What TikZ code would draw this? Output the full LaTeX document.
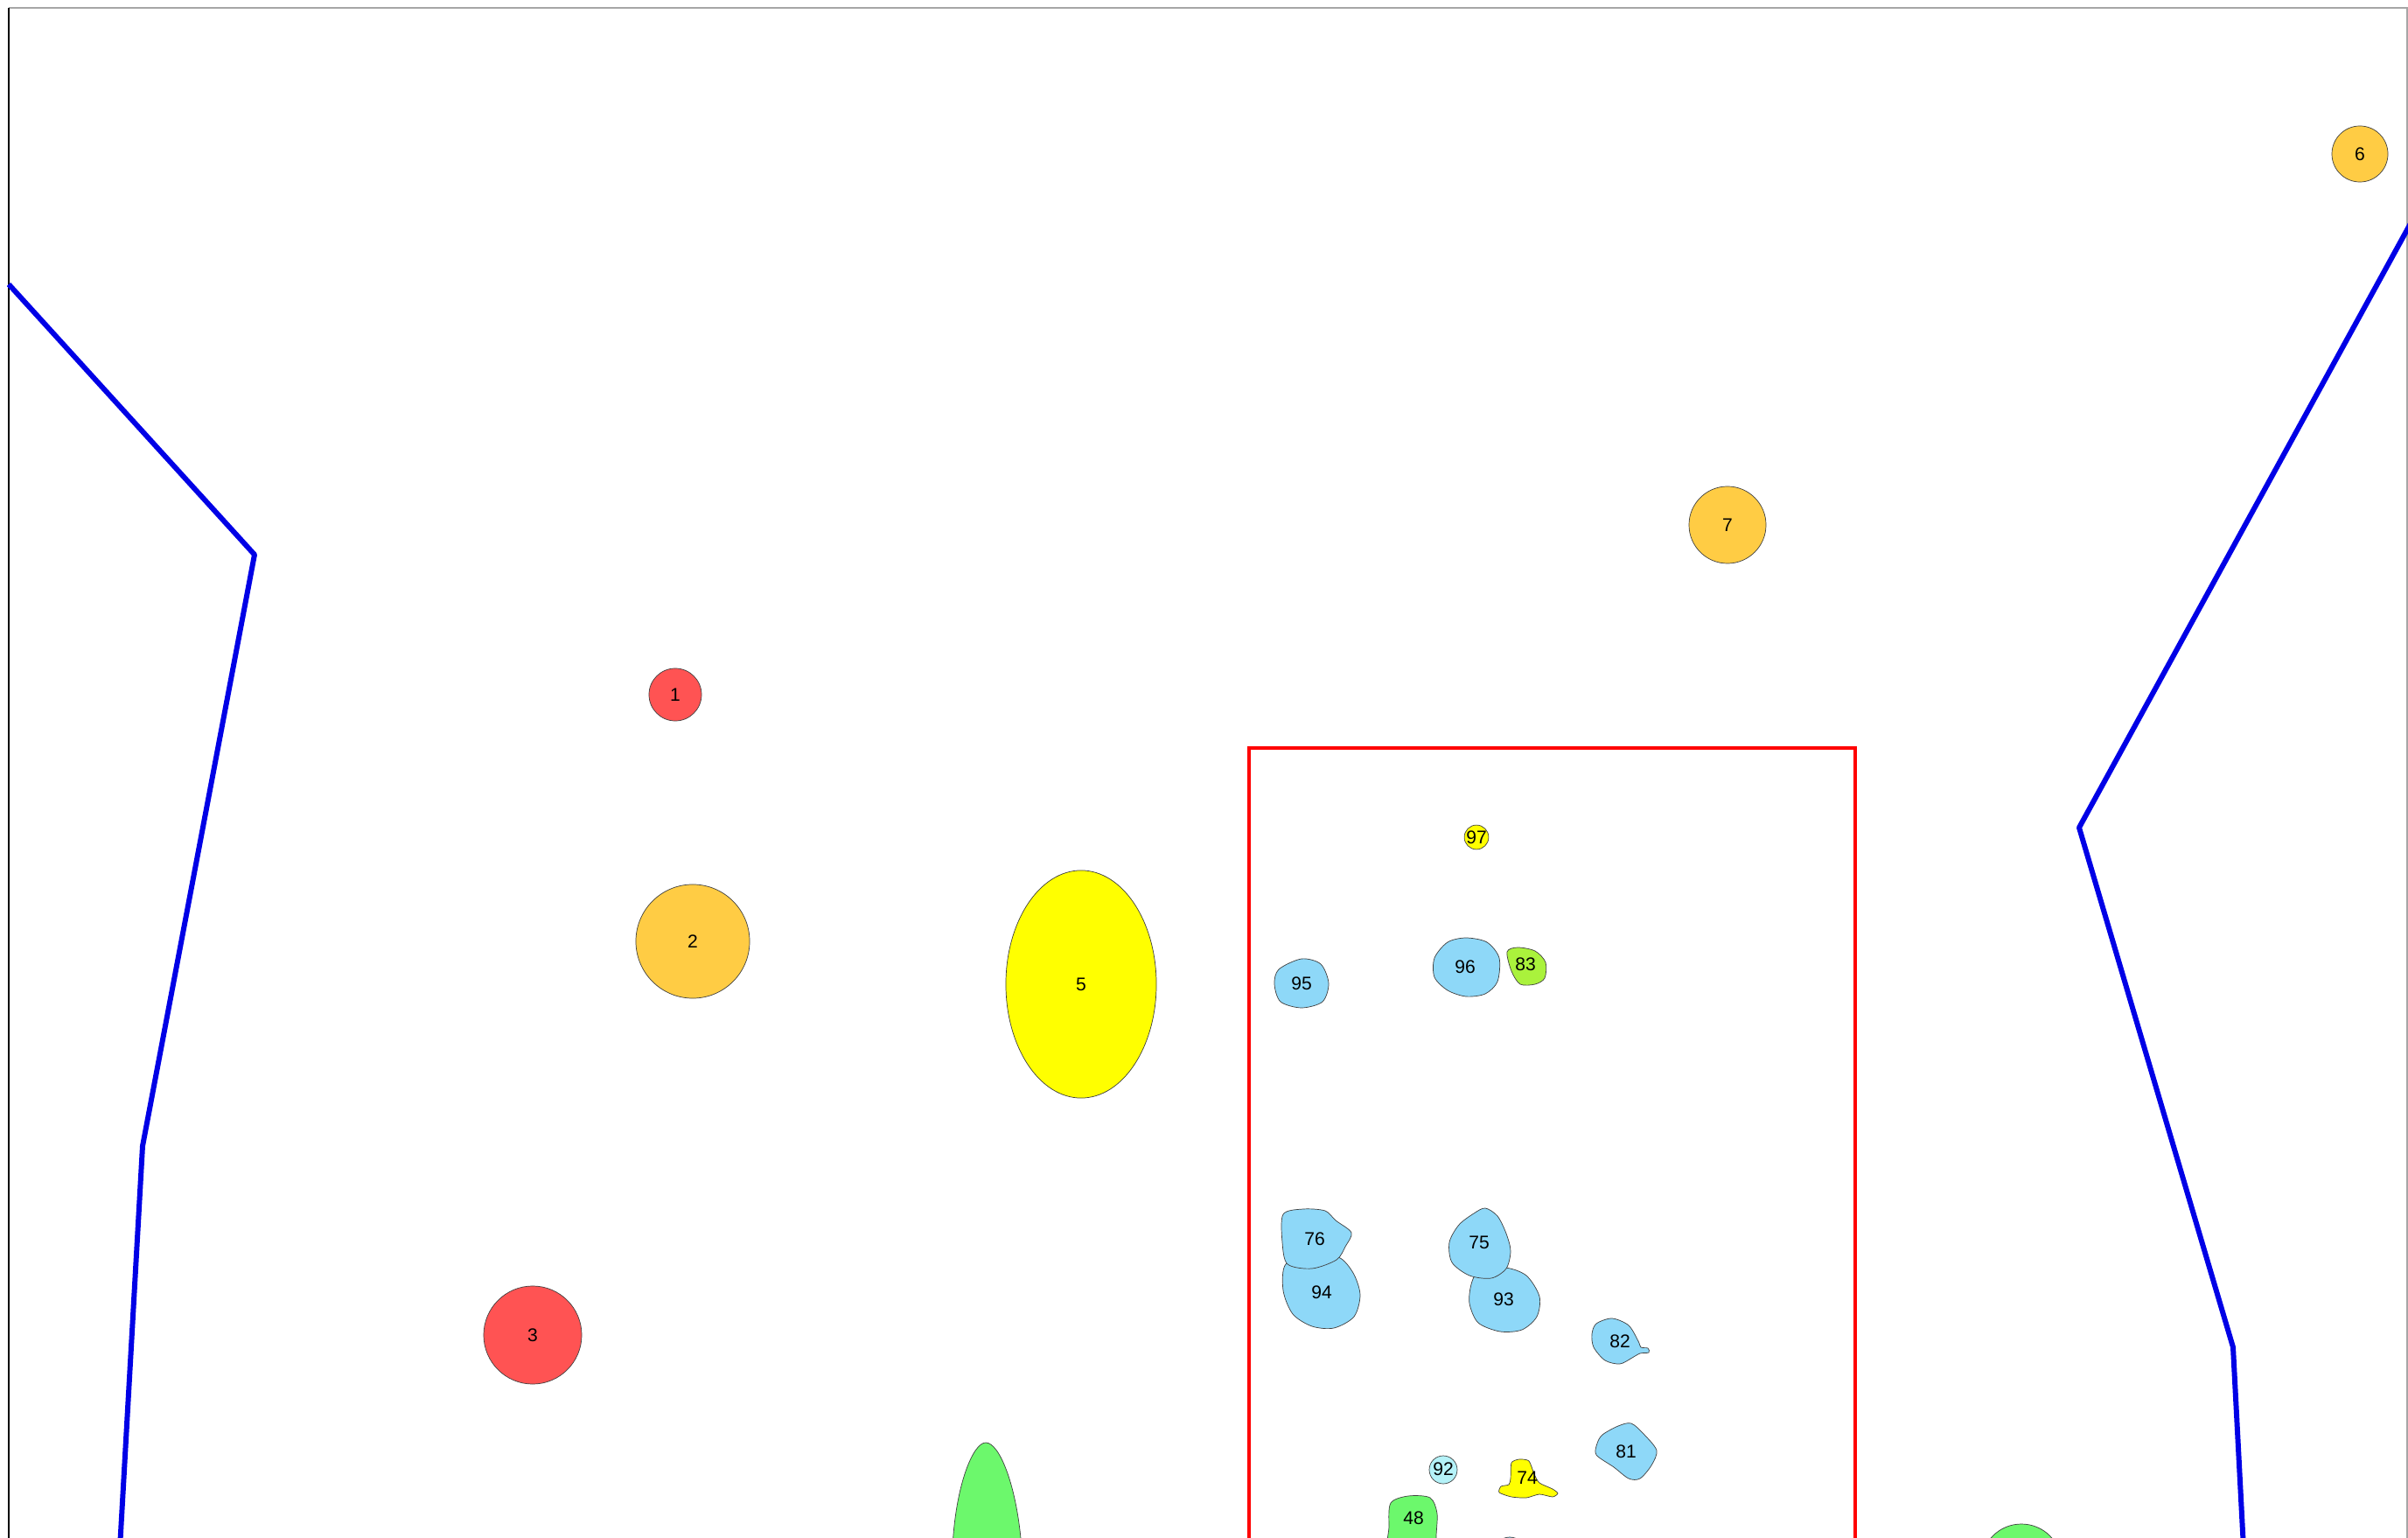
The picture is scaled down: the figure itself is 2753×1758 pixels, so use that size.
\documentclass[tikz,border=0pt]{standalone}
\usepackage{fontspec}
\setmainfont{Liberation Sans}
\usetikzlibrary{shapes.geometric}

\definecolor{spotred}{HTML}{FF5353}
\definecolor{spotorange}{HTML}{FFCC44}
\definecolor{spotyellow}{HTML}{FFFF00}
\definecolor{spotblue}{HTML}{8ED8F8}
\definecolor{spotcyan}{HTML}{B4F2F8}
\definecolor{spotlime}{HTML}{AAF23C}
\definecolor{spotgreen}{HTML}{6CF86C}
\definecolor{fenceblue}{HTML}{0000E6}

\begin{document}
\begin{tikzpicture}[x=0.01cm, y=-0.01cm,
    spot/.style={circle, draw=black!75, very thin, inner sep=0pt, font=\fontsize{6}{7}\selectfont},
    blob/.style={draw=black!75, very thin},
    lbl/.style={inner sep=0pt, font=\fontsize{6}{7}\selectfont},
    fence/.style={fenceblue, line width=1.7pt, line join=round}]
    \useasboundingbox (0,0) rectangle (2753,1758);
    \clip (0,0) rectangle (2753,1758);

    % Frame
    \draw[black!35, line width=0.6pt] (10,9) -- (2752,9) -- (2752,1758);
    \draw[black, line width=0.6pt] (10,9) -- (10,1758);

    % Boundaries
    \draw[fence] (10,325) -- (291,634) -- (163,1310) -- (137,1770);
    \draw[fence] (2760,248) -- (2377,946) -- (2553,1540) -- (2565,1770);

    % Study area
    \draw[red, line width=1.2pt] (1428,1800) -- (1428,855) -- (2121,855) -- (2121,1800);

    % Large spots
    \node[spot, fill=spotred, minimum size=0.6cm] (s1) at (772,794) {1};
    \node[spot, fill=spotorange, minimum size=1.3cm] (s2) at (792,1076) {2};
    \node[spot, fill=spotred, minimum size=1.12cm] (s3) at (609,1526) {3};
    \node[spot, ellipse, fill=spotyellow, minimum width=1.72cm, minimum height=2.6cm] (s5) at (1236,1125) {5};
    \node[spot, fill=spotorange, minimum size=0.64cm] (s6) at (2698,176) {6};
    \node[spot, fill=spotorange, minimum size=0.88cm] (s7) at (1975,600) {7};
    \draw[blob, fill=spotgreen] (1089,1770) .. controls (1092,1700) and (1112,1649) .. (1127,1649) .. controls (1143,1649) and (1163,1700) .. (1168,1770);
    \draw[blob, fill=spotgreen] (2311,1788) circle (46);

    % Small spots
    \node[spot, fill=spotyellow, minimum size=0.25cm] (s97) at (1688,957) {97};
    \draw[blob, fill=spotblue] plot[smooth cycle] coordinates {(1462,1108) (1488,1096) (1510,1102) (1519,1124) (1512,1145) (1488,1152) (1464,1145) (1457,1125)};
    \node[lbl] (s95) at (1488,1124) {95};
    \draw[blob, fill=spotblue] plot[smooth cycle] coordinates {(1640,1095) (1655,1077) (1676,1072) (1700,1077) (1714,1095) (1712,1122) (1698,1136) (1676,1139) (1655,1132) (1640,1117)};
    \node[lbl] (s96) at (1675,1105) {96};
    \draw[blob, fill=spotlime] plot[smooth cycle] coordinates {(1723,1088) (1735,1083) (1755,1087) (1767,1100) (1766,1118) (1755,1125) (1738,1125) (1728,1110)};
    \node[lbl] (s83) at (1744,1102) {83};

    \draw[blob, fill=spotblue] plot[smooth cycle] coordinates {(1470,1445) (1500,1440) (1530,1437) (1547,1455) (1555,1480) (1548,1505) (1525,1518) (1500,1516) (1478,1502) (1467,1475)};
    \node[lbl] (s94) at (1511,1477) {94};
    \draw[blob, fill=spotblue] plot[smooth cycle, tension=0.5] coordinates {(1467,1388) (1490,1382) (1515,1384) (1527,1395) (1545,1409) (1538,1425) (1528,1440) (1500,1450) (1472,1445) (1466,1420)};
    \node[lbl] (s76) at (1503,1416) {76};
    \draw[blob, fill=spotblue] plot[smooth cycle] coordinates {(1690,1455) (1720,1449) (1745,1458) (1760,1482) (1757,1505) (1740,1520) (1715,1522) (1690,1512) (1680,1490) (1682,1468)};
    \node[lbl] (s93) at (1719,1485) {93};
    \draw[blob, fill=spotblue] plot[smooth cycle] coordinates {(1698,1381) (1712,1390) (1722,1410) (1727,1430) (1722,1450) (1705,1461) (1680,1458) (1660,1443) (1657,1420) (1668,1400) (1685,1387)};
    \node[lbl] (s75) at (1691,1420) {75};
    \draw[blob, fill=spotblue] plot[smooth cycle, tension=0.5] coordinates {(1825,1513) (1843,1507) (1862,1515) (1873,1533) (1876,1540) (1884,1541) (1885,1546) (1875,1547) (1866,1552) (1852,1559) (1835,1555) (1822,1540) (1820,1525)};
    \node[lbl] (s82) at (1852,1533) {82};
    \draw[blob, fill=spotblue] plot[smooth cycle, tension=0.5] coordinates {(1832,1640) (1850,1630) (1865,1627) (1880,1640) (1894,1658) (1888,1675) (1875,1690) (1862,1690) (1845,1677) (1825,1663) (1826,1650)};
    \node[lbl] (s81) at (1859,1659) {81};
    \draw[blob, fill=spotcyan] (1650,1680) circle (16);
    \node[lbl] (s92) at (1650,1679) {92};
    \draw[blob, fill=spotyellow] plot[smooth cycle, tension=0.4] coordinates {(1727,1690) (1728,1672) (1737,1668) (1748,1670) (1754,1685) (1760,1695) (1775,1702) (1781,1707) (1775,1711) (1760,1708) (1745,1712) (1728,1711) (1714,1706) (1716,1699) (1725,1697)};
    \node[lbl] (s74) at (1746,1689) {74};
    \draw[blob, fill=spotgreen] plot[smooth cycle] coordinates {(1590,1718) (1610,1710) (1635,1712) (1643,1730) (1642,1758) (1645,1775) (1590,1775) (1588,1745)};
    \node[lbl] (s48) at (1616,1735) {48};
    \draw[blob, fill=spotblue] (1726,1775) circle (18);
\end{tikzpicture}
\end{document}
